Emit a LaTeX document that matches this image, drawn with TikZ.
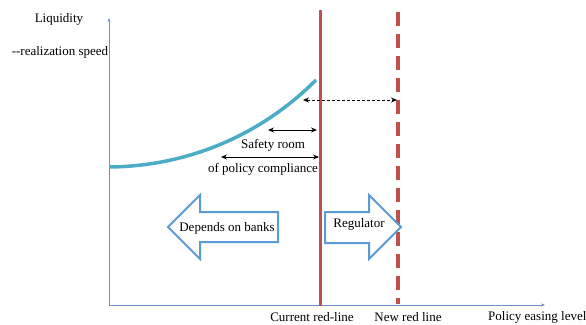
\documentclass[tikz,border=0pt]{standalone}
\usepackage{fontspec}
\setmainfont{Liberation Serif}
\usetikzlibrary{arrows.meta}
\definecolor{redline}{HTML}{C0504D}
\definecolor{curvec}{HTML}{4BACC6}
\definecolor{axisc}{HTML}{6F8FC8}
\definecolor{blockc}{HTML}{5B9BD5}
\begin{document}
\begin{tikzpicture}[x=1pt,y=-1pt,
  lbl/.style={font=\fontsize{13}{15}\selectfont, inner sep=0pt},
  axisline/.style={draw=axisc, line width=0.8pt, -{Stealth[length=4pt,width=3pt]}},
  redsolid/.style={draw=redline, line width=3pt},
  reddash/.style={draw=redline, line width=3.2pt, dash pattern=on 14pt off 8pt},
  curveline/.style={draw=curvec, line width=3.5pt},
  dimarrow/.style={draw=black, line width=0.8pt, {Stealth[length=6pt,width=5pt]}-{Stealth[length=6pt,width=5pt]}},
  dotarrow/.style={draw=black, line width=0.7pt, dash pattern=on 3pt off 2pt, {Stealth[length=6pt,width=5pt]}-{Stealth[length=6pt,width=5pt]}},
  blockarrow/.style={draw=blockc, line width=2pt, fill=white, line join=miter}
]
\useasboundingbox (0,0) rectangle (586,324);

% axes
\coordinate (O) at (109,305);
\coordinate (ytop) at (109,18);
\coordinate (xend) at (545,305);
\draw[axisline] (O) -- (ytop);
\draw[axisline] (O) -- (xend);

\node[lbl] (liq) at (59,19) {Liquidity};
\node[lbl] (speed) at (60,52) {-{}-realization speed};

% red lines
\coordinate (curTop) at (320,10);
\coordinate (curBot) at (320,306);
\coordinate (newTop) at (398,12);
\coordinate (newBot) at (398,304);
\draw[redsolid] (curTop) -- (curBot);
\draw[reddash] (newTop) -- (newBot);

% curve
\coordinate (c0) at (110,167);
\coordinate (c1) at (316,80);
\draw[curveline] (c0) .. controls (190,166) and (262,134) .. (c1);

% dimension arrows
\coordinate (d1a) at (303,100);
\coordinate (d1b) at (397,100);
\draw[dotarrow] (d1a) -- (d1b);
\coordinate (d2a) at (268,130);
\coordinate (d2b) at (317,130);
\draw[dimarrow] (d2a) -- (d2b);
\coordinate (d3a) at (221,157);
\coordinate (d3b) at (319,157);
\draw[dimarrow] (d3a) -- (d3b);

\node[lbl] (safety) at (273,145) {Safety room};
\node[lbl] (compl) at (263,169) {of policy compliance};

% block arrows
\draw[blockarrow] (168,227) -- (200,195) -- (200,212) -- (278,212) -- (278,242) -- (200,242) -- (200,259) -- cycle;
\node[lbl] (banks) at (227,228) {Depends on banks};
\draw[blockarrow] (401,227) -- (369,195) -- (369,212) -- (325,212) -- (325,243) -- (369,243) -- (369,259) -- cycle;
\node[lbl] (reg) at (359,224) {Regulator};

% axis labels
\node[lbl] (curlab) at (312,317) {Current red-line};
\node[lbl] (newlab) at (408,317) {New red line};
\node[lbl, anchor=west] (xlab) at (488,317) {Policy easing level};
\end{tikzpicture}
\end{document}
